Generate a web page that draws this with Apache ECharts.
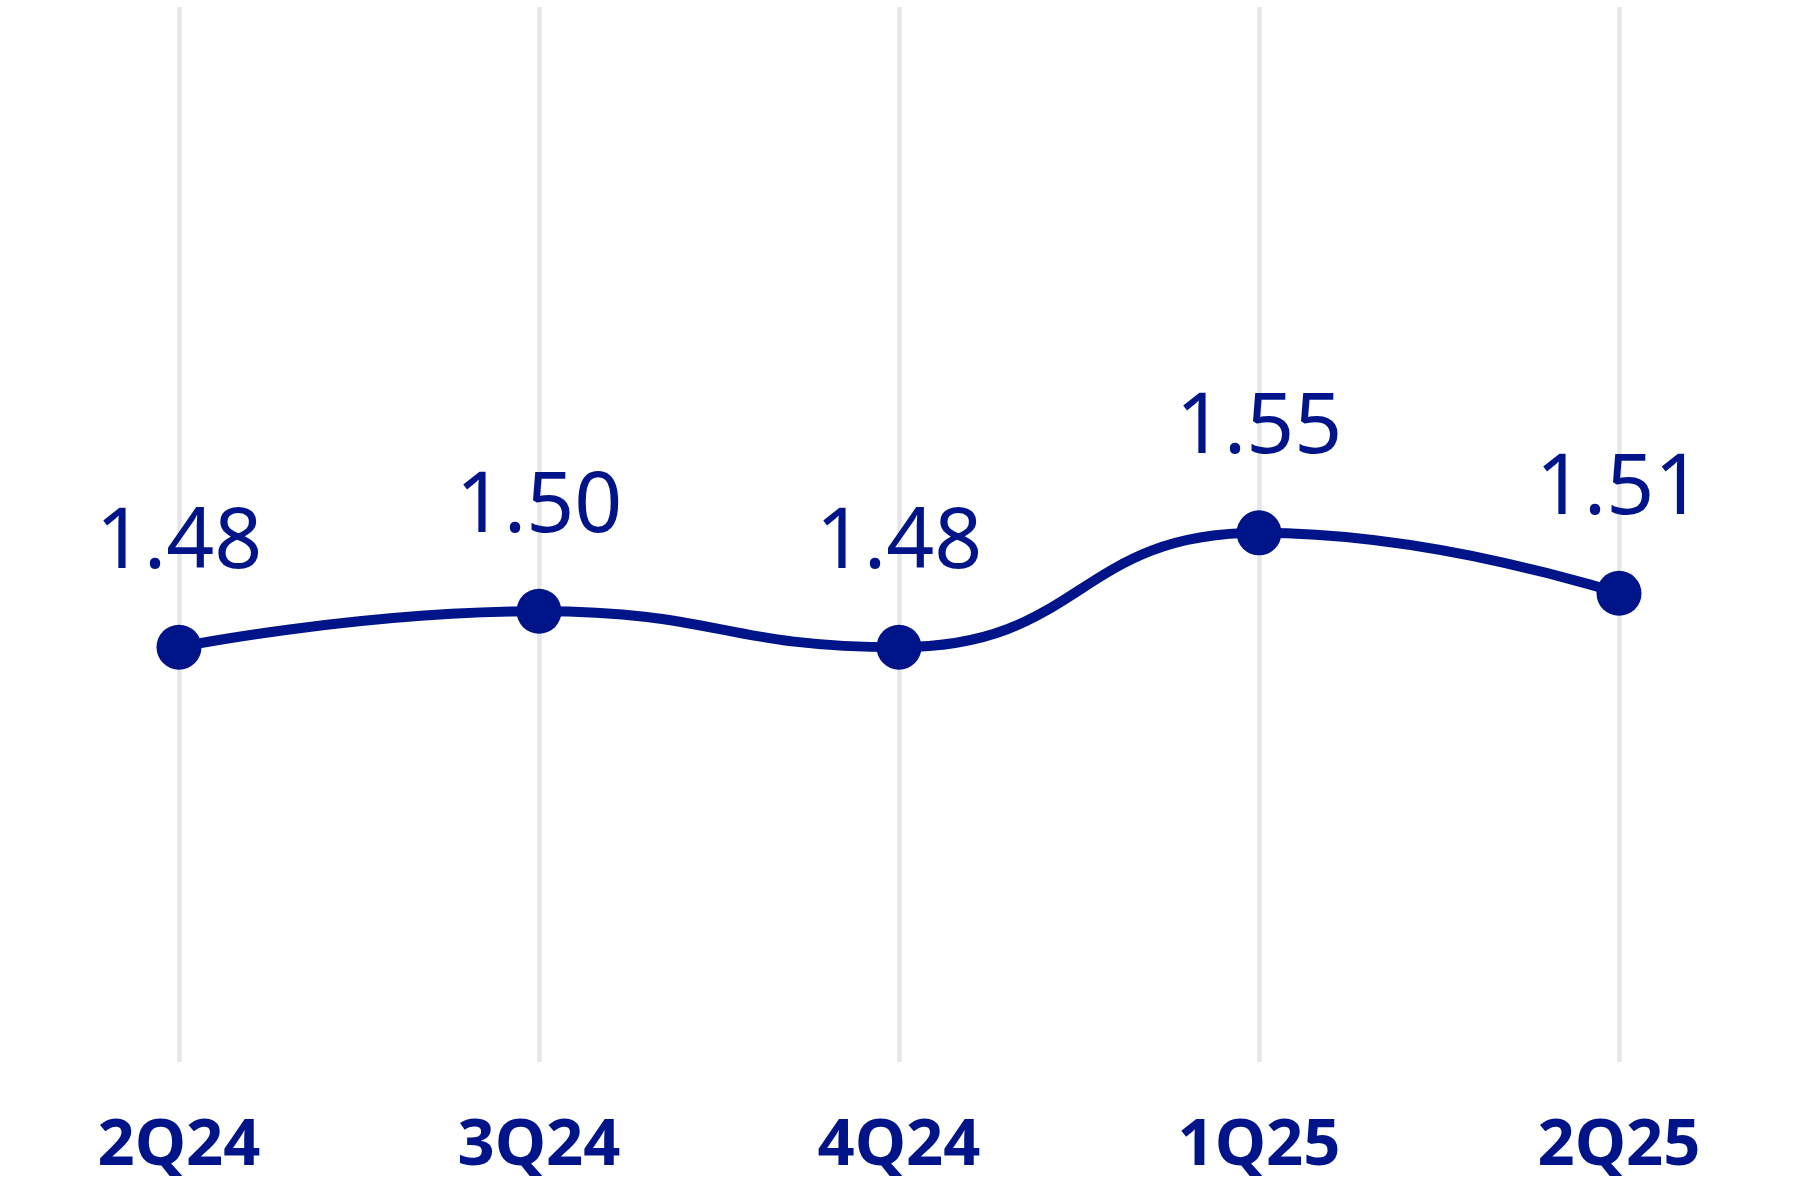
<!DOCTYPE html>
<html>
<head>
    <meta charset="utf-8">
    <title>Quarterly ratio</title>
    <script src="https://cdn.jsdelivr.net/npm/echarts@6/dist/echarts.min.js"></script>
    <style>
        html, body { margin: 0; padding: 0; background: #fff; }
        #main { width: 1800px; height: 1200px; }
    </style>
</head>
<body>
<div id="main"></div>
<script>
    // quarters and values (labels show 2 decimals)
    var quarters = ['2Q24', '3Q24', '4Q24', '1Q25', '2Q25'];
    var values = [1.476, 1.498, 1.476, 1.546, 1.509];

    var navy = '#001489';

    var myChart = echarts.init(document.getElementById('main'));

    var option = {
        animation: false,
        backgroundColor: '#ffffff',
        grid: {
            left: 179,
            right: 181,
            top: 7,
            bottom: 138
        },
        xAxis: {
            type: 'category',
            boundaryGap: false,
            data: quarters,
            axisLine: { show: false },
            axisTick: { show: false },
            axisLabel: {
                margin: 52,
                color: navy,
                fontFamily: 'Noto Sans',
                fontWeight: 'bold',
                fontSize: 65
            },
            splitLine: {
                show: true,
                lineStyle: { color: '#e6e6e6', width: 4.5 }
            }
        },
        yAxis: {
            type: 'value',
            min: 1.222,
            max: 1.868,
            show: false,
            splitLine: { show: false }
        },
        series: [
            {
                name: 'value',
                type: 'line',
                smooth: true,
                data: values,
                symbol: 'circle',
                symbolSize: 45,
                itemStyle: { color: navy },
                lineStyle: { color: navy, width: 10 },
                label: {
                    show: true,
                    position: 'top',
                    distance: 39,
                    color: navy,
                    fontFamily: 'Noto Sans',
                    fontSize: 84,
                    formatter: function (p) {
                        return p.value.toFixed(2);
                    }
                }
            }
        ]
    };

    myChart.setOption(option);
</script>
</body>
</html>
